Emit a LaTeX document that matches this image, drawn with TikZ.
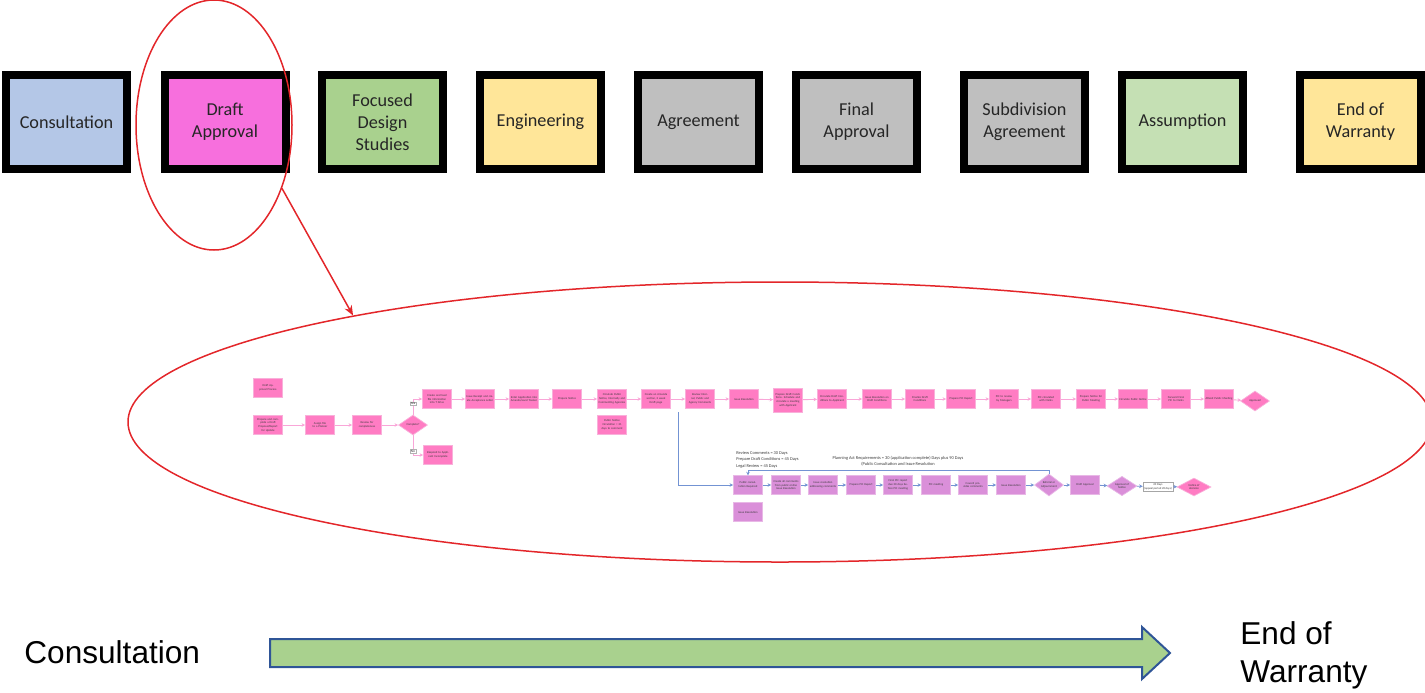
\documentclass[tikz,border=0pt]{standalone}
\usepackage{fontspec}
\setmainfont{Carlito}
\newfontfamily\arialfont{Liberation Sans}
\usetikzlibrary{shapes.geometric,arrows.meta}

% stage colours
\definecolor{stageblue}{HTML}{B4C7E7}
\definecolor{stagemagenta}{HTML}{F76FDD}
\definecolor{stagegreen}{HTML}{A9D18E}
\definecolor{stageyellow}{HTML}{FFE699}
\definecolor{stagegrey}{HTML}{BFBFBF}
\definecolor{stagelight}{HTML}{C5E0B4}
% process chart colours
\definecolor{flowpink}{HTML}{FF7CC3}
\definecolor{flowpinkedge}{HTML}{F9B0DA}
\definecolor{flowpinkline}{HTML}{F9A6D8}
\definecolor{floworchid}{HTML}{DA8FD9}
\definecolor{orchidedge}{HTML}{E8B8E6}
\definecolor{flowblue}{HTML}{7393D3}
\definecolor{flowtext}{HTML}{3A3A3A}
% callout colours
\definecolor{ringred}{HTML}{E3262A}
\definecolor{arrowgreen}{HTML}{A9D18E}
\definecolor{arrowedge}{HTML}{2F5597}

\tikzset{
  stage/.style={draw=black, line width=4pt, minimum width=60.5pt, minimum height=47pt,
    inner sep=0pt, align=center, text=black!85, font=\fontsize{9.1}{11}\selectfont},
  pbox/.style={rectangle, draw=flowpinkedge, line width=0.35pt, fill=flowpink,
    minimum width=14.5pt, minimum height=9.3pt, text width=13.6pt, inner sep=0pt,
    align=center, text=flowtext, font=\fontsize{1.45}{1.9}\selectfont},
  obox/.style={pbox, fill=floworchid, draw=orchidedge},
  pdiam/.style={diamond, draw=flowpinkedge, line width=0.35pt, fill=flowpink,
    minimum width=14.5pt, minimum height=10pt, inner sep=0pt, align=center,
    text=flowtext, font=\fontsize{1.45}{1.9}\selectfont},
  odiam/.style={pdiam, fill=floworchid, draw=orchidedge},
  wbox/.style={rectangle, draw=black!35, line width=0.25pt, fill=white,
    minimum width=15pt, minimum height=4.6pt, inner sep=0pt, align=center,
    text=flowtext, font=\fontsize{1.45}{1.9}\selectfont},
  tag/.style={rectangle, draw=black!30, line width=0.2pt, fill=white, inner sep=0.3pt,
    text=flowtext, font=\fontsize{1.8}{2}\selectfont},
  note/.style={inner sep=0pt, text=flowtext, font=\fontsize{2.2}{3.2}\selectfont},
  plink/.style={draw=flowpinkline, line width=0.45pt, -{Stealth[length=1.8pt,width=1.8pt]}},
  blink/.style={draw=flowblue, line width=0.45pt, -{Stealth[length=1.8pt,width=1.8pt]}},
  ring/.style={ellipse, draw=ringred, line width=0.75pt, inner sep=0pt},
  bigtext/.style={inner sep=0pt, font=\arialfont\fontsize{15.8}{19}\selectfont}
}

\begin{document}
\begin{tikzpicture}[x=0.5pt, y=-0.5pt]
\useasboundingbox (0,0) rectangle (1425,692);

% ---- stage boxes ----
\node[stage, fill=stageblue]    (consult) at (66.5,122)   {Consultation};
\node[stage, fill=stagemagenta] (draft)   at (225,122)    {Draft\\Approval};
\node[stage, fill=stagegreen]   (focused) at (382.5,122)  {Focused\\Design\\Studies};
\node[stage, fill=stageyellow]  (eng)     at (540.5,122)  {Engineering};
\node[stage, fill=stagegrey]    (agree)   at (698.5,122)  {Agreement};
\node[stage, fill=stagegrey]    (final)   at (856.5,122)  {Final\\Approval};
\node[stage, fill=stagegrey]    (subdiv)  at (1024.5,122) {Subdivision\\Agreement};
\node[stage, fill=stagelight]   (assume)  at (1182.5,122) {Assumption};
\node[stage, fill=stageyellow]  (warr)    at (1360.5,122) {End of\\Warranty};

% ---- callout rings ----
\node[ring, minimum width=78pt, minimum height=125pt] (focus) at (214,125) {};
\node[ring, minimum width=652pt, minimum height=140pt] (detail) at (780,422) {};
\draw[ringred, line width=0.75pt, -{Stealth[length=5pt,width=4pt]}] (focus.-43) -- (detail.166.3);

% ---- draft approval process: intake ----
\node[pbox] (title) at (268,388) {Draft Approval Process};
\node[pbox] (s1) at (268,425) {Prepare and complete a Draft Proposal/Report for Update};
\node[pbox] (s2) at (320,425) {Assign file to a Planner};
\node[pbox] (s3) at (367,425) {Review for completeness};
\node[pdiam] (dc) at (413,425) {Complete?};
\node[pbox] (inc) at (438,455) {Respond to Applicant Incomplete};

% ---- main sequence ----
\node[pbox] (t1)  at (437,399)  {Create and load file information into T Drive};
\node[pbox] (t2)  at (480,399)  {Issue Receipt and create Acceptance Letter};
\node[pbox] (t3)  at (524,399)  {Enter Application into Amanda/Land Tracker};
\node[pbox] (t4)  at (567,399)  {Prepare Notice};
\node[pbox] (t5)  at (612,399)  {Circulate Public Notice, Internally and Commenting Agencies};
\node[pbox] (t5b) at (612,425)  {Public Notice Circulation = 21 days to comment};
\node[pbox] (t6)  at (656,399)  {Create an Amanda section, 2 week Draft page};
\node[pbox] (t7)  at (700,399)  {Review Internal, Public and Agency Comments};
\node[pbox] (t8)  at (744,399)  {Issue Resolution};
\node[pbox, minimum height=12pt] (t9) at (788,400) {Prepare Draft Conditions. Schedule and circulate a meeting with Applicant};
\node[pbox] (t10) at (832,399)  {Circulate Draft Conditions to Applicant};
\node[pbox] (t11) at (877,399)  {Issue Resolution on Draft Conditions};
\node[pbox] (t12) at (920,399)  {Finalize Draft Conditions};
\node[pbox] (t13) at (961,399)  {Prepare PIC Report};
\node[pbox] (t14) at (1004,399) {PIC to review by Managers};
\node[pbox] (t15) at (1046,399) {PIC circulated with Clerks};
\node[pbox] (t16) at (1091,399) {Prepare Notice for Public Meeting};
\node[pbox] (t17) at (1133,399) {Circulate Public Notice};
\node[pbox] (t18) at (1176,399) {Forward Final PIC to Clerks};
\node[pbox] (t19) at (1219,399) {Attend Public Meeting};
\node[pdiam] (t20) at (1255,401) {Approved};

\draw[plink] (s1) -- (s2);
\draw[plink] (s2) -- (s3);
\draw[plink] (s3) -- (dc);
\draw[plink] (dc.north) |- (t1.west) node[tag, pos=0.35] {Yes};
\draw[plink] (dc.south) |- (inc.west) node[tag, pos=0.4] {No};
\foreach \a/\b in {t1/t2,t2/t3,t3/t4,t4/t5,t5/t6,t6/t7,t7/t8,t8/t9,t9/t10,t10/t11,
                   t11/t12,t12/t13,t13/t14,t14/t15,t15/t16,t16/t17,t17/t18,t18/t19,t19/t20}
  \draw[plink] (\a) -- (\b);

% ---- public consultation branch ----
\node[obox] (b1)  at (748,485)  {Public consultation Required};
\node[obox] (b2)  at (786,485)  {Create all comments from public online Issue Resolution};
\node[obox] (b3)  at (823,485)  {Issue resolution addressing comments};
\node[obox] (b4)  at (861,485)  {Prepare PIC Report};
\node[obox] (b5)  at (898,485)  {Final PIC report due 30 days before PIC meeting};
\node[obox] (b6)  at (936,485)  {PIC meeting};
\node[obox] (b7)  at (973,485)  {Council provides comments};
\node[obox] (b8)  at (1011,485) {Issue Resolution};
\node[odiam] (bd1) at (1049,485) {Referral or\\Adjournment};
\node[obox] (b9)  at (1085,485) {Draft Approval};
\node[odiam, minimum width=15pt, minimum height=8.5pt] (bd2) at (1122,486) {Approval of\\Notice};
\node[wbox] (bw) at (1158,486.5) {20 Days\\(appeal period 20 days)};
\node[pdiam, minimum width=17pt, minimum height=9pt] (bd3) at (1194,487) {Notice of\\decision};
\node[obox] (b10) at (748,512) {Issue Resolution};

\coordinate (branch) at (678,412);
\coordinate (loop) at (0,470);
\draw[blink] (branch) |- (b1.west);
\foreach \a/\b in {b1/b2,b2/b3,b3/b4,b4/b5,b5/b6,b6/b7,b7/b8,b8/bd1,bd1/b9,b9/bd2,bd2/bw,bw/bd3}
  \draw[blink] (\a) -- (\b);
\draw[blink] (bd1.north) -- (bd1.north |- loop) -| (b1.north);

% ---- timing notes ----
\node[note, anchor=north west, align=left] (timing) at (736,451)
  {Review Comments = 30 Days\\Prepare Draft Conditions = 45 Days\\Legal Review = 45 Days};
\node[note, align=center] (planact) at (898,461)
  {Planning Act Requirements = 30 (application complete) Days plus 90 Days\\(Public Consultation and Issue Resolution};

% ---- overall timeline ----
\node[bigtext, anchor=west] (from) at (24,652) {Consultation};
\node[bigtext, anchor=north west, align=left] (to) at (1240,621) {End of\\Warranty};
\draw[fill=arrowgreen, draw=arrowedge, line width=1pt]
  (270,639) -- (1142,639) -- (1142,627) -- (1170,653) -- (1142,679) -- (1142,667) -- (270,667) -- cycle;
\end{tikzpicture}
\end{document}
